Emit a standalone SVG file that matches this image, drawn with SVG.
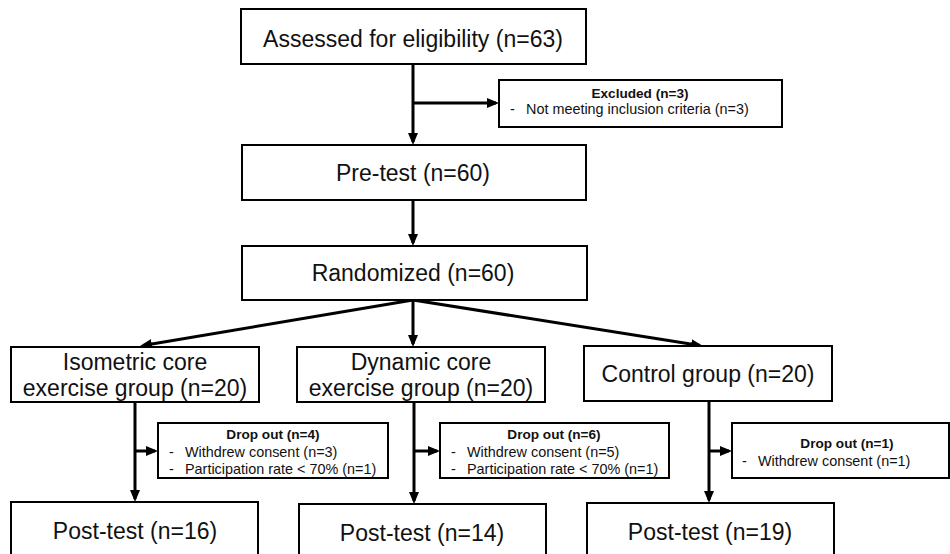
<svg xmlns="http://www.w3.org/2000/svg" width="950" height="554" viewBox="0 0 950 554">
<style>
.box{fill:#fff;stroke:#000;stroke-width:2}
.t{font-family:"Liberation Sans",Arial,sans-serif;fill:#111}
.big{font-size:23px;text-anchor:middle}
.mid{font-size:23px;text-anchor:middle}
.sm{font-size:14.4px}
.hd{font-size:13.6px;font-weight:bold;text-anchor:middle}
.c{fill:none;stroke:#000;stroke-width:3;marker-end:url(#ah)}
</style>
<defs>
<marker id="ah" viewBox="0 0 12 10" refX="9" refY="5" markerWidth="12" markerHeight="10" markerUnits="userSpaceOnUse" orient="auto">
<path d="M0,0 L12,5 L0,10 z" fill="#000"/>
</marker>
</defs>
<rect width="950" height="554" fill="#fff"/>
<g id="connectors">
<line class="c" x1="413" y1="64" x2="413" y2="142"/>
<line class="c" x1="413" y1="103" x2="496" y2="103"/>
<line class="c" x1="413" y1="200" x2="413" y2="243"/>
<line class="c" x1="413" y1="300" x2="143" y2="345.5"/>
<line class="c" x1="413" y1="300" x2="413" y2="344"/>
<line class="c" x1="413" y1="300" x2="700" y2="345.5"/>
<line class="c" x1="135" y1="402" x2="135" y2="499"/>
<line class="c" x1="135" y1="451" x2="155" y2="451"/>
<line class="c" x1="414" y1="402" x2="414" y2="501"/>
<line class="c" x1="414" y1="451" x2="437" y2="451"/>
<line class="c" x1="709" y1="401" x2="709" y2="500"/>
<line class="c" x1="709" y1="451" x2="729" y2="451"/>
</g>
<g id="n-assessed">
<rect class="box" x="241" y="9" width="345" height="55"/>
<text class="t big" x="413" y="47">Assessed for eligibility (n=63)</text>
</g>
<g id="n-excluded">
<rect class="box" x="499" y="80" width="283" height="47"/>
<text class="t hd" x="640" y="98">Excluded (n=3)</text>
<text class="t sm" x="510" y="114">-</text>
<text class="t sm" x="526" y="114">Not meeting inclusion criteria (n=3)</text>
</g>
<g id="n-pretest">
<rect class="box" x="242" y="145" width="344" height="55"/>
<text class="t big" x="413" y="181">Pre-test (n=60)</text>
</g>
<g id="n-randomized">
<rect class="box" x="242" y="246" width="345" height="54"/>
<text class="t big" x="413" y="281">Randomized (n=60)</text>
</g>
<g id="n-isometric">
<rect class="box" x="11" y="347" width="248" height="55"/>
<text class="t mid" x="135" y="370">Isometric core</text>
<text class="t mid" x="135" y="396">exercise group (n=20)</text>
</g>
<g id="n-dynamic">
<rect class="box" x="297" y="347" width="248" height="55"/>
<text class="t mid" x="421" y="370">Dynamic core</text>
<text class="t mid" x="421" y="396">exercise group (n=20)</text>
</g>
<g id="n-control">
<rect class="box" x="584" y="346" width="248" height="55"/>
<text class="t mid" x="708" y="382">Control group (n=20)</text>
</g>
<g id="n-drop1">
<rect class="box" x="158" y="423" width="230" height="55"/>
<text class="t hd" x="273" y="439">Drop out (n=4)</text>
<text class="t sm" x="169" y="457">-</text>
<text class="t sm" x="185" y="457">Withdrew consent (n=3)</text>
<text class="t sm" x="169" y="474">-</text>
<text class="t sm" x="185" y="474">Participation rate &lt; 70% (n=1)</text>
</g>
<g id="n-drop2">
<rect class="box" x="440" y="423" width="229" height="55"/>
<text class="t hd" x="554" y="439">Drop out (n=6)</text>
<text class="t sm" x="451" y="457">-</text>
<text class="t sm" x="467" y="457">Withdrew consent (n=5)</text>
<text class="t sm" x="451" y="474">-</text>
<text class="t sm" x="467" y="474">Participation rate &lt; 70% (n=1)</text>
</g>
<g id="n-drop3">
<rect class="box" x="732" y="423" width="217" height="55"/>
<text class="t hd" x="847" y="448">Drop out (n=1)</text>
<text class="t sm" x="742" y="466">-</text>
<text class="t sm" x="758" y="466">Withdrew consent (n=1)</text>
</g>
<g id="n-post1">
<rect class="box" x="11" y="502" width="247" height="60"/>
<text class="t big" x="135" y="539">Post-test (n=16)</text>
</g>
<g id="n-post2">
<rect class="box" x="299" y="504" width="247" height="60"/>
<text class="t big" x="422" y="541">Post-test (n=14)</text>
</g>
<g id="n-post3">
<rect class="box" x="587" y="503" width="247" height="60"/>
<text class="t big" x="710" y="540">Post-test (n=19)</text>
</g>
</svg>
